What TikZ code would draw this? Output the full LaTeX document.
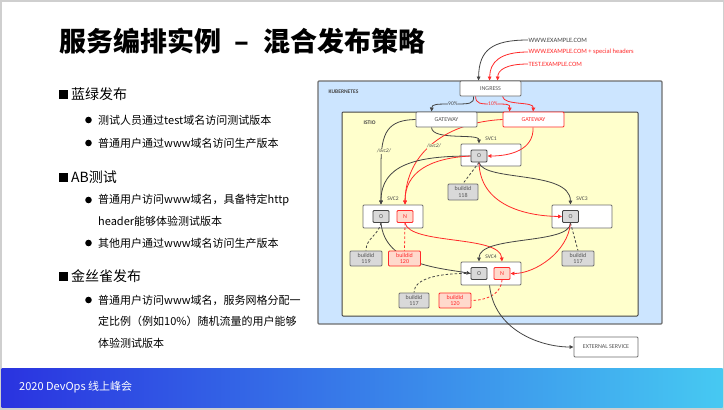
\documentclass[tikz,border=0pt]{standalone}
\usepackage{fontspec}
\newfontfamily\cjk{Noto Sans CJK SC}
\newfontfamily\dg{Carlito}
\usetikzlibrary{arrows.meta,calc}
\definecolor{kblue}{HTML}{CCE5FF}
\definecolor{iyel}{HTML}{FFFFCC}
\definecolor{rd}{HTML}{FF2A2A}
\definecolor{dk}{HTML}{444444}
\definecolor{bx}{HTML}{6E6E6E}
\definecolor{ogray}{HTML}{D9D9D9}
\definecolor{pinkf}{HTML}{FFD9CC}
\definecolor{txt}{HTML}{555555}
\definecolor{barL}{HTML}{2A33E0}
\definecolor{barR}{HTML}{46C9F2}
\definecolor{framec}{HTML}{CFCFCF}
\pgfdeclarelayer{back}\pgfdeclarelayer{bg}\pgfdeclarelayer{edges}\pgfsetlayers{back,bg,edges,main}
\tikzset{
 box/.style={draw=bx, line width=0.9pt, fill=white, rounded corners=1pt, inner sep=0pt, font=\dg\fontsize{6}{7}\selectfont, text=txt},
 wbox/.style={box, minimum width=61pt, minimum height=15pt},
 svcbox/.style={box, minimum width=60pt, minimum height=23pt},
 obox/.style={box, fill=ogray, draw=dk, minimum width=16pt, minimum height=12pt},
 nbox/.style={box, fill=pinkf, draw=rd, text=rd, minimum width=16pt, minimum height=12pt},
 bid/.style={box, fill=ogray, draw=bx, minimum width=32pt, minimum height=15pt, align=center, font=\dg\fontsize{6}{6.5}\selectfont},
 bidr/.style={bid, fill=pinkf, draw=rd, text=rd},
 lbl/.style={font=\dg\fontsize{5.5}{6}\selectfont, text=dk, inner sep=0.5pt},
 dom/.style={font=\dg\fontsize{6.5}{7}\selectfont, text=dk, inner sep=0.5pt, anchor=west},
 ed/.style={draw=dk, line width=0.8pt, -{Triangle[length=4pt,width=3.6pt]}},
 edr/.style={ed, draw=rd},
 dsh/.style={draw=dk, line width=0.8pt, dash pattern=on 2.5pt off 2pt},
 dshr/.style={dsh, draw=rd},
 hone/.style={font=\cjk\fontsize{14}{16}\selectfont, anchor=west, inner sep=0pt},
 htwo/.style={font=\cjk\fontsize{11}{13}\selectfont, anchor=west, inner sep=0pt},
}
\begin{document}
\begin{tikzpicture}[x=1pt,y=-1pt]
\useasboundingbox (0,0) rectangle (724,410);
\begin{pgfonlayer}{back}
\fill[framec] (0,0) rectangle (724,410);
\fill[white] (1.5,1.5) rectangle (722.5,407);
\shade[left color=barL, right color=barR] (1.5,368) rectangle (722.5,407);
\end{pgfonlayer}
\node[font=\cjk\bfseries\fontsize{27}{30}\selectfont, anchor=west, inner sep=0pt] (title) at (59,41) {服务编排实例\hspace{0.5em}–\hspace{0.5em}混合发布策略};
\node[font=\cjk\fontsize{11}{13}\selectfont, text=white, anchor=west, inner sep=0pt] (foot) at (19,387.5) {2020 DevOps 线上峰会};
% left text
\fill (59,90) rectangle (68,98.5);
\node[hone] (t1) at (71,94.5) {蓝绿发布};
\fill (88.5,120) circle (3.3);
\node[htwo] (t11) at (98,120) {测试人员通过test域名访问测试版本};
\fill (88.5,143) circle (3.3);
\node[htwo] (t12) at (98,143) {普通用户通过www域名访问生产版本};
\fill (59,173) rectangle (68,181.5);
\node[hone] (t2) at (71,177) {AB测试};
\fill (88.5,200) circle (3.3);
\node[htwo] (t21) at (98,200) {普通用户访问www域名，具备特定http};
\node[htwo] (t21b) at (98,221.5) {header能够体验测试版本};
\fill (88.5,243) circle (3.3);
\node[htwo] (t22) at (98,243) {其他用户通过www域名访问生产版本};
\fill (59,272) rectangle (68,280.5);
\node[hone] (t3) at (71,276) {金丝雀发布};
\fill (88.5,300) circle (3.3);
\node[htwo] (t31) at (98,300) {普通用户访问www域名，服务网格分配一};
\node[htwo] (t31b) at (98,321.5) {定比例（例如10\%）随机流量的用户能够};
\node[htwo] (t31c) at (98,343) {体验测试版本};
% containers
\begin{pgfonlayer}{bg}
\node[draw=bx, line width=1.2pt, fill=kblue, minimum width=344pt, minimum height=243pt, inner sep=0pt, rounded corners=1pt] (k8s) at (490,202.5) {};
\node[draw=dk, line width=1pt, fill=iyel, minimum width=296pt, minimum height=204pt, inner sep=0pt, rounded corners=1pt] (istio) at (490,214) {};
\node[svcbox, minimum height=22pt] (svc1) at (491,155) {};
\node[svcbox] (svc2) at (393,216.5) {};
\node[svcbox] (svc3) at (582,216.5) {};
\node[svcbox] (svc4) at (491,273.5) {};
\end{pgfonlayer}
\node[lbl, font=\dg\bfseries\fontsize{5.5}{6}\selectfont, anchor=west] (klbl) at (328,92) {KUBERNETES};
\node[lbl, font=\dg\bfseries\fontsize{5.5}{6}\selectfont, anchor=west] (ilbl) at (363,123) {ISTIO};
\node[lbl] (s1l) at (491,138.5) {SVC1};
\node[lbl] (s2l) at (393,199) {SVC2};
\node[lbl] (s3l) at (582,199) {SVC3};
\node[lbl] (s4l) at (491,256.5) {SVC4};
% boxes
\node[wbox] (ingress) at (490.5,88.5) {INGRESS};
\node[wbox] (gw) at (446.5,119.5) {GATEWAY};
\node[wbox, draw=rd, text=rd] (gwr) at (533.5,119.5) {GATEWAY};
\node[obox] (o1) at (479,156) {O};
\node[bid, minimum width=30pt, minimum height=16pt] (b118) at (463,192) {buildid\\118};
\node[obox] (o2) at (381,216.5) {O};
\node[nbox] (n2) at (405,216.5) {N};
\node[bid] (b119) at (366,258.5) {buildid\\119};
\node[bidr] (b120a) at (404.5,258.5) {buildid\\120};
\node[obox] (o3) at (570.5,216.5) {O};
\node[bid] (b117a) at (578,258.5) {buildid\\117};
\node[obox] (o4) at (479,273.5) {O};
\node[nbox] (n4) at (502,273.5) {N};
\node[bid, minimum width=30pt] (b117b) at (414,300.5) {buildid\\117};
\node[bidr] (b120b) at (455,300.5) {buildid\\120};
\node[box, minimum width=64pt, minimum height=20pt] (ext) at (606,347) {EXTERNAL SERVICE};
\node[dom] (www) at (528,40) {WWW.EXAMPLE.COM};
\node[dom, text=rd] (wwwh) at (528,52) {WWW.EXAMPLE.COM + special headers};
\node[dom, text=rd] (test) at (528,64) {TEST.EXAMPLE.COM};
% edges
\begin{pgfonlayer}{edges}
\draw[ed] (www.west) .. controls (492,40) and (479,50) .. ([xshift=19pt]ingress.north west);
\draw[edr] (wwwh.west) .. controls (500,52) and (490,62) .. ([xshift=30pt]ingress.north west);
\draw[edr] (test.west) .. controls (506,64) and (498,70) .. ([xshift=38pt]ingress.north west);
\draw[ed] ([xshift=14pt]ingress.south west) .. controls (474,104) and (470,104) .. (453,104) .. controls (436,104) and (432,104) .. ([xshift=16pt]gw.north west);
\draw[edr] ([xshift=16pt]ingress.south west) .. controls (476,104) and (480,104) .. (493,104) .. controls (508,104) and (510,104) .. ([xshift=7pt]gwr.north west);
\draw[edr] ([xshift=43pt]ingress.south west) .. controls (504,106) and (534,101) .. ([xshift=30.5pt]gwr.north west);
\draw[ed] ([xshift=16pt]gw.south west) .. controls (432,141) and (479,133) .. (o1 |- svc1.north);
\draw[ed] (gw.west) .. controls (388,120) and (381,132) .. (381,165) -- (o2 |- svc2.north);
\draw[edr] (gwr.west) .. controls (450,122) and (406,150) .. (n2 |- svc2.north);
\draw[edr] ([xshift=30.5pt]gwr.south west) .. controls (534,150) and (510,156) .. (o1.east);
\draw[ed] (o1.west) .. controls (415,156) and (381,165) .. (o2 |- svc2.north);
\draw[edr] (o1.west) .. controls (430,158) and (405,172) .. (n2 |- svc2.north);
\draw[ed] (o1.south) .. controls (484,182) and (570,170) .. (o3 |- svc3.north);
\draw[edr] (o1.south) .. controls (480,205) and (525,216) .. (o3.west);
\draw[dsh] (o1.south) -- (b118.north);
\draw[dsh] (o2.south) .. controls (378,236) and (366,238) .. (b119.north);
\draw[dshr] (n2.south) -- (b120a.north);
\draw[ed] (o2.south) .. controls (385,265) and (440,268) .. (o4.west);
\draw[edr] (n2.south) .. controls (410,245) and (500,235) .. (n4 |- svc4.north);
\draw[ed] (o3.south) .. controls (570,245) and (479,235) .. (o4 |- svc4.north);
\draw[edr] (o3.south) .. controls (568,252) and (535,273.5) .. (n4.east);
\draw[dsh] (o3.south) -- (b117a.north);
\draw[dsh] (o4.west) .. controls (440,273) and (414,278) .. (b117b.north);
\draw[dshr] (n4.south) .. controls (501,295) and (485,300.5) .. (b120b.east);
\draw[ed] ([xshift=29pt]svc4.south west) .. controls (494,330) and (540,347) .. (ext.west);
\end{pgfonlayer}
\node[lbl, fill=kblue] (p90) at (453,104) {90\%};
\node[lbl, text=rd, fill=kblue] (p10) at (493,104) {10\%};
\node[lbl, fill=iyel, font=\dg\itshape\fontsize{5.5}{6}\selectfont] (sv2a) at (384,151) {/svc2/};
\node[lbl, fill=iyel, font=\dg\itshape\fontsize{5.5}{6}\selectfont] (sv2b) at (434,146) {/svc2/};
\end{tikzpicture}
\end{document}
